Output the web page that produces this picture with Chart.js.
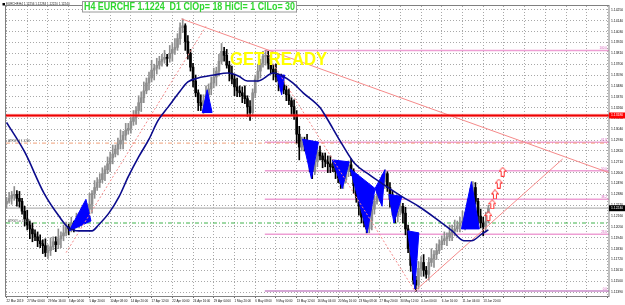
<!DOCTYPE html>
<html><head><meta charset="utf-8">
<script src="https://cdn.jsdelivr.net/npm/chart.js@4"></script>
<style>html,body{margin:0;padding:0;background:#fff;overflow:hidden}canvas{display:block}</style>
</head><body>
<canvas id="c" width="625" height="305" style="width:625px;height:305px"></canvas>
<script>
// ---------- data ----------
const titleText = 'H4 EURCHF 1.1224  D1 ClOp= 18 HiCl= 1 ClLo= 30';
const infoText = 'EURCHF,H4 1.12256 1.12284 1.12220 1.12240';
const barsPerCandle = 2; // each drawn candle covers two H4 bars

const opens = [1.1228,1.1231,1.1234,1.1237,1.1238,1.1234,1.1231,1.1221,1.1213,1.1207,1.1203,1.1198,1.1195,1.1191,1.1188,1.1186,1.1179,1.1181,1.1185,1.1190,1.1187,1.1193,1.1196,1.1199,1.1205,1.1203,1.1209,1.1207,1.1212,1.1214,1.1217,1.1220,1.1223,1.1228,1.1239,1.1245,1.1250,1.1253,1.1259,1.1263,1.1269,1.1275,1.1279,1.1284,1.1289,1.1293,1.1298,1.1303,1.1305,1.1312,1.1316,1.1323,1.1331,1.1336,1.1343,1.1351,1.1356,1.1364,1.1366,1.1369,1.1373,1.1375,1.1377,1.1376,1.1381,1.1385,1.1387,1.1396,1.1407,1.1409,1.1393,1.1381,1.1367,1.1353,1.1341,1.1331,1.1328,1.1333,1.1339,1.1345,1.1351,1.1357,1.1363,1.1373,1.1383,1.1379,1.1369,1.1361,1.1355,1.1347,1.1343,1.1341,1.1338,1.1335,1.1327,1.1321,1.1341,1.1355,1.1363,1.1371,1.1378,1.1379,1.1371,1.1365,1.1361,1.1357,1.1353,1.1349,1.1344,1.1339,1.1333,1.1327,1.1319,1.1299,1.1286,1.1291,1.1289,1.1285,1.1271,1.1261,1.1271,1.1281,1.1277,1.1273,1.1271,1.1269,1.1266,1.1265,1.1261,1.1255,1.1249,1.1253,1.1261,1.1268,1.1261,1.1247,1.1235,1.1226,1.1215,1.1209,1.1203,1.1211,1.1223,1.1231,1.1236,1.1243,1.1251,1.1259,1.1245,1.1233,1.1223,1.1216,1.1221,1.1226,1.1219,1.1203,1.1183,1.1166,1.1151,1.1146,1.1163,1.1169,1.1161,1.1157,1.1169,1.1173,1.1177,1.1181,1.1187,1.1191,1.1193,1.1195,1.1199,1.1201,1.1203,1.1206,1.1209,1.1211,1.1216,1.1226,1.1239,1.1245,1.1231,1.1216,1.1209,1.1205,1.1211];
const highs = [1.1235,1.1240,1.1241,1.1246,1.1242,1.1241,1.1234,1.1226,1.1222,1.1211,1.1209,1.1202,1.1200,1.1197,1.1192,1.1193,1.1187,1.1194,1.1195,1.1195,1.1203,1.1200,1.1207,1.1210,1.1208,1.1215,1.1211,1.1219,1.1219,1.1225,1.1224,1.1229,1.1239,1.1242,1.1252,1.1255,1.1259,1.1265,1.1267,1.1276,1.1281,1.1288,1.1288,1.1295,1.1303,1.1302,1.1310,1.1310,1.1316,1.1323,1.1327,1.1338,1.1342,1.1352,1.1356,1.1362,1.1374,1.1370,1.1376,1.1378,1.1380,1.1384,1.1380,1.1389,1.1391,1.1396,1.1401,1.1412,1.1416,1.1411,1.1399,1.1385,1.1371,1.1359,1.1344,1.1339,1.1339,1.1348,1.1350,1.1357,1.1366,1.1367,1.1380,1.1391,1.1387,1.1385,1.1373,1.1368,1.1360,1.1356,1.1348,1.1347,1.1348,1.1338,1.1333,1.1345,1.1359,1.1370,1.1375,1.1383,1.1384,1.1383,1.1375,1.1370,1.1370,1.1360,1.1360,1.1353,1.1348,1.1345,1.1336,1.1334,1.1323,1.1307,1.1296,1.1296,1.1299,1.1288,1.1277,1.1276,1.1286,1.1287,1.1280,1.1280,1.1277,1.1277,1.1271,1.1270,1.1270,1.1258,1.1260,1.1265,1.1272,1.1274,1.1264,1.1254,1.1240,1.1234,1.1219,1.1214,1.1220,1.1226,1.1237,1.1241,1.1248,1.1258,1.1263,1.1261,1.1250,1.1241,1.1227,1.1227,1.1236,1.1229,1.1225,1.1207,1.1187,1.1172,1.1155,1.1170,1.1175,1.1177,1.1165,1.1174,1.1183,1.1181,1.1188,1.1192,1.1196,1.1200,1.1199,1.1207,1.1207,1.1212,1.1211,1.1215,1.1221,1.1220,1.1233,1.1244,1.1251,1.1250,1.1234,1.1223,1.1215,1.1220,1.1227];
const lows = [1.1224,1.1229,1.1228,1.1232,1.1226,1.1225,1.1218,1.1206,1.1202,1.1193,1.1190,1.1191,1.1185,1.1184,1.1178,1.1175,1.1173,1.1176,1.1182,1.1180,1.1183,1.1184,1.1191,1.1196,1.1197,1.1200,1.1200,1.1204,1.1204,1.1209,1.1214,1.1214,1.1219,1.1219,1.1234,1.1242,1.1245,1.1250,1.1252,1.1259,1.1261,1.1269,1.1276,1.1278,1.1284,1.1284,1.1293,1.1299,1.1300,1.1308,1.1309,1.1319,1.1322,1.1331,1.1340,1.1344,1.1352,1.1354,1.1360,1.1365,1.1368,1.1371,1.1368,1.1372,1.1373,1.1380,1.1384,1.1390,1.1402,1.1384,1.1375,1.1363,1.1347,1.1337,1.1323,1.1323,1.1320,1.1328,1.1336,1.1339,1.1346,1.1348,1.1358,1.1370,1.1373,1.1366,1.1353,1.1350,1.1338,1.1337,1.1337,1.1331,1.1330,1.1317,1.1313,1.1318,1.1336,1.1352,1.1356,1.1367,1.1369,1.1365,1.1361,1.1354,1.1352,1.1343,1.1343,1.1340,1.1333,1.1329,1.1319,1.1314,1.1290,1.1273,1.1282,1.1282,1.1280,1.1261,1.1254,1.1258,1.1266,1.1273,1.1265,1.1266,1.1260,1.1260,1.1261,1.1254,1.1250,1.1244,1.1244,1.1250,1.1256,1.1257,1.1239,1.1230,1.1217,1.1209,1.1205,1.1199,1.1199,1.1202,1.1218,1.1228,1.1231,1.1240,1.1244,1.1241,1.1225,1.1217,1.1209,1.1210,1.1217,1.1209,1.1197,1.1179,1.1160,1.1147,1.1140,1.1142,1.1155,1.1155,1.1153,1.1151,1.1165,1.1164,1.1172,1.1178,1.1182,1.1187,1.1186,1.1191,1.1191,1.1196,1.1200,1.1200,1.1205,1.1202,1.1211,1.1223,1.1234,1.1228,1.1208,1.1204,1.1196,1.1200,1.1209];
const closes = [1.1231,1.1234,1.1237,1.1238,1.1234,1.1231,1.1221,1.1213,1.1207,1.1203,1.1198,1.1195,1.1191,1.1188,1.1186,1.1179,1.1181,1.1185,1.1190,1.1187,1.1193,1.1196,1.1199,1.1205,1.1203,1.1209,1.1207,1.1212,1.1214,1.1217,1.1220,1.1223,1.1228,1.1239,1.1245,1.1250,1.1253,1.1259,1.1263,1.1269,1.1275,1.1279,1.1284,1.1289,1.1293,1.1298,1.1303,1.1305,1.1312,1.1316,1.1323,1.1331,1.1336,1.1343,1.1351,1.1356,1.1364,1.1366,1.1369,1.1373,1.1375,1.1377,1.1376,1.1381,1.1385,1.1387,1.1396,1.1407,1.1409,1.1393,1.1381,1.1367,1.1353,1.1341,1.1331,1.1328,1.1333,1.1339,1.1345,1.1351,1.1357,1.1363,1.1373,1.1383,1.1379,1.1369,1.1361,1.1355,1.1347,1.1343,1.1341,1.1338,1.1335,1.1327,1.1321,1.1341,1.1355,1.1363,1.1371,1.1378,1.1379,1.1371,1.1365,1.1361,1.1357,1.1353,1.1349,1.1344,1.1339,1.1333,1.1327,1.1319,1.1299,1.1286,1.1291,1.1289,1.1285,1.1271,1.1261,1.1271,1.1281,1.1277,1.1273,1.1271,1.1269,1.1266,1.1265,1.1261,1.1255,1.1249,1.1253,1.1261,1.1268,1.1261,1.1247,1.1235,1.1226,1.1215,1.1209,1.1203,1.1211,1.1223,1.1231,1.1236,1.1243,1.1251,1.1259,1.1245,1.1233,1.1223,1.1216,1.1221,1.1226,1.1219,1.1203,1.1183,1.1166,1.1151,1.1146,1.1163,1.1169,1.1161,1.1157,1.1169,1.1173,1.1177,1.1181,1.1187,1.1191,1.1193,1.1195,1.1199,1.1201,1.1203,1.1206,1.1209,1.1211,1.1216,1.1226,1.1239,1.1245,1.1231,1.1216,1.1209,1.1205,1.1211,1.1224];

// moving average (bar index, price)
const maBars = [0,14,29,41,48,56,66,71,79,87,94,102,110,117,125,133,140,148,160,171,179,186,194,206,213,221,229,242,246,259,269,280,290,305,318,331,344,353,359,367,372];
const maValues = [1.1311,1.1281,1.1239,1.1215,1.1204,1.1201,1.1201,1.1207,1.1219,1.1236,1.1256,1.1276,1.1294,1.1313,1.1327,1.1341,1.1352,1.1356,1.1359,1.1361,1.1358,1.1353,1.1353,1.1361,1.1358,1.1351,1.1341,1.1326,1.1318,1.1289,1.1269,1.1258,1.1249,1.1236,1.1226,1.1214,1.1201,1.1191,1.1191,1.1198,1.1202];

// horizontal levels
const redLevel = 1.1318;
const atrHigh = 1.1290;
const atrLow = 1.1209;
const bidPrice = 1.1224;

// fibonacci retracement
const fibHigh = 1.1384, fibLow = 1.1140, fibStartBar = 199.4;
const fibLevels = [100, 61.8, 50, 38.2, 23.6, 0];
const fibLabels = ['100.0', '61.8', '50.0', '38.2', '23.6', '0.0'];

// trend / zigzag lines
const trendFromBar = [46.0, 135.0, 199.4, 315.2];
const trendFromPrice = [1.1179, 1.1416, 1.1384, 1.1140];
const trendToBar = [154.2, 465.1, 315.2, 429.4];
const trendToPrice = [1.1409, 1.1260, 1.1140, 1.1274];
const trendDotted = [true, false, true, false];

// blue pattern triangles
const triBars = [[48.3,61.3,65.2],[151.1,154.9,158.7],[208.6,214.7,212.4],[228.5,240.8,235.4],[251.5,264.6,259.2],[265.3,284.5,278.4],[284.5,292.2,289.9],[295.2,305.2,299.1],[309.8,318.3,315.2],[351.2,358.9,365.0]];
const triPrices = [[1.1201,1.1233,1.1211],[1.1321,1.1344,1.1321],[1.1359,1.1359,1.1339],[1.1294,1.1291,1.1254],[1.1273,1.1271,1.1244],[1.1264,1.1244,1.1199],[1.1244,1.1263,1.1226],[1.1238,1.1236,1.1209],[1.1201,1.1199,1.1142],[1.1203,1.1251,1.1203]];

// projected up arrows
const arrowBars = [372, 375, 377, 380, 383];
const arrowPrices = [1.1216, 1.1228, 1.1238, 1.1249, 1.1261];

// axis ticks
const xTickStep = 16;
const xTickLabels = ['22 Mar 2019','27 Mar 00:00','29 Mar 16:00','3 Apr 04:00','5 Apr 20:00','10 Apr 08:00','14 Apr 20:00','17 Apr 12:00','22 Apr 00:00','24 Apr 16:00','29 Apr 04:00','1 May 20:00','6 May 08:00','9 May 00:00','13 May 12:00','16 May 04:00','20 May 16:00','23 May 08:00','27 May 20:00','30 May 12:00','4 Jun 00:00','6 Jun 16:00','11 Jun 04:00','13 Jun 20:00'];
const yTickValues = [1.1425,1.1414,1.1403,1.1392,1.1381,1.1370,1.1359,1.1348,1.1337,1.1326,1.1315,1.1304,1.1293,1.1282,1.1271,1.1260,1.1249,1.1238,1.1227,1.1216,1.1205,1.1194,1.1183,1.1172,1.1161,1.1150,1.1139];

// ---------- chart ----------
const xMin = -0.4, xMax = 465.1, yMin = 1.1135, yMax = 1.1429;
const FONT = 'Liberation Sans';

function makeArrow() {
  const c = document.createElement('canvas'); c.width = 8; c.height = 10;
  const g = c.getContext('2d');
  g.fillStyle = '#ffffff'; g.strokeStyle = '#ff2e2e'; g.lineWidth = 1;
  g.beginPath();
  g.moveTo(4, 0.5); g.lineTo(7.5, 4.5); g.lineTo(5.5, 4.5); g.lineTo(5.5, 9.5);
  g.lineTo(2.5, 9.5); g.lineTo(2.5, 4.5); g.lineTo(0.5, 4.5); g.closePath();
  g.fill(); g.stroke();
  return c;
}

function seg(points, color, width, dash, order) {
  return {type: 'line', data: points, borderColor: color, borderWidth: width, borderDash: dash || [],
          pointRadius: 0, fill: false, tension: 0, order: order};
}

const datasets = [];
const upColor = '#8e8e8e', downColor = '#000000';
const candleColors = closes.map((c, i) => c >= opens[i] ? upColor : downColor);
const candleX = closes.map((_, i) => i * barsPerCandle);

// fib lines
fibLevels.forEach(l => {
  const p = fibLow + (fibHigh - fibLow) * l / 100;
  datasets.push(seg([{x: fibStartBar, y: p}, {x: xMax, y: p}], l === 0 ? '#c98ac9' : '#ee9fd4', 1.5, [], 10));
});
// dash-dot levels
datasets.push(seg([{x: xMin, y: atrHigh}, {x: xMax, y: atrHigh}], '#f0a07a', 1, [4, 2, 1, 2], 9));
datasets.push(seg([{x: xMin, y: atrLow}, {x: xMax, y: atrLow}], '#3fb24a', 1, [4, 2, 1, 2], 9));
// bid line
datasets.push(seg([{x: xMin, y: bidPrice}, {x: xMax, y: bidPrice}], '#b4b4b4', 1.2, [], 8));
// candles
datasets.push({type: 'bar', data: candleX.map((x, i) => ({x: x, y: [lows[i], highs[i]]})),
  backgroundColor: candleColors, barThickness: 1, grouped: false, borderWidth: 0, order: 7});
datasets.push({type: 'bar', data: candleX.map((x, i) => ({x: x, y: [opens[i], closes[i]]})),
  backgroundColor: candleColors, barThickness: 2, minBarLength: 1, grouped: false, borderWidth: 0, order: 6});
// triangles
triBars.forEach((bars, k) => {
  const pts = bars.map((b, j) => ({x: b, y: triPrices[k][j]}));
  pts.push(pts[0]);
  datasets.push({type: 'line', data: pts, borderColor: '#0000ff', backgroundColor: '#0000ff', borderWidth: 1,
                 fill: 'shape', pointRadius: 0, tension: 0, order: 5});
});
// trend lines
trendFromBar.forEach((b, k) => {
  datasets.push(seg([{x: b, y: trendFromPrice[k]}, {x: trendToBar[k], y: trendToPrice[k]}],
    '#f58a8a', 1, trendDotted[k] ? [2, 2] : [], 4));
});
// red level (with soft halo)
datasets.push(seg([{x: xMin, y: redLevel}, {x: xMax, y: redLevel}], 'rgba(255,120,120,0.45)', 3.5, [], 3.5));
datasets.push(seg([{x: xMin, y: redLevel}, {x: xMax, y: redLevel}], '#ee0000', 1.8, [], 3));
// moving average
datasets.push({type: 'line', data: maBars.map((b, i) => ({x: b, y: maValues[i]})), borderColor: '#0b0b8c',
  borderWidth: 1.6, cubicInterpolationMode: 'monotone', pointRadius: 0, fill: false, order: 2});
// arrows
const arrowImg = makeArrow();
datasets.push({type: 'line', data: arrowBars.map((b, i) => ({x: b, y: arrowPrices[i]})), showLine: false,
  pointStyle: arrowImg, pointRadius: 5, order: 1});

function squeezeText(ctx, text, x, y, width, font, color, align) {
  ctx.save();
  ctx.font = font; ctx.fillStyle = color; ctx.textBaseline = 'middle'; ctx.textAlign = 'left';
  const w = ctx.measureText(text).width;
  const s = Math.min(1, width / w);
  ctx.translate(align === 'right' ? x - w * s : x, y);
  ctx.scale(s, 1);
  ctx.fillText(text, 0, 0);
  ctx.restore();
}

const overlay = {
  id: 'overlay',
  afterDraw(chart) {
    const {ctx, chartArea: a, scales: {x: xs, y: ys}} = chart;
    ctx.save();
    // frame
    ctx.strokeStyle = '#808080'; ctx.lineWidth = 1;
    ctx.strokeRect(a.left - 0.5, a.top - 0.5, a.right - a.left + 0.5, a.bottom - a.top + 1);
    // fib labels
    ctx.font = '3px "' + FONT + '"'; ctx.textAlign = 'right'; ctx.textBaseline = 'bottom';
    fibLevels.forEach((l, i) => {
      const p = fibLow + (fibHigh - fibLow) * l / 100;
      ctx.fillStyle = '#d25cb8';
      ctx.fillText(fibLabels[i], a.right - 2, ys.getPixelForValue(p) - 0.3);
    });
    // ATR labels
    ctx.textAlign = 'left'; ctx.fillStyle = '#555';
    ctx.fillText('ATRW Hi 1.1290', a.left + 2, ys.getPixelForValue(atrHigh) - 0.5);
    ctx.fillText('ATRW Lo 1.1209', a.left + 2, ys.getPixelForValue(atrLow) - 0.5);
    // info line
    ctx.fillStyle = '#000'; ctx.fillRect(2.5, 3, 2.5, 2.5);
    squeezeText(ctx, infoText, 6, 4.5, 68, '3px "' + FONT + '"', '#222', 'left');
    // axis price boxes
    const boxes = [[redLevel, '#ff0000'], [bidPrice, '#000000']];
    boxes.forEach(([v, col]) => {
      const py = ys.getPixelForValue(v);
      ctx.fillStyle = col; ctx.fillRect(a.right, py - 3, chart.width - a.right, 6);
      ctx.fillStyle = '#fff'; ctx.font = '3.4px "' + FONT + '"'; ctx.textAlign = 'left'; ctx.textBaseline = 'middle';
      ctx.fillText(v.toFixed(5), a.right + 2, py);
    });
    // title box
    ctx.fillStyle = '#fff'; ctx.fillRect(82, 1, 215, 11.5);
    ctx.strokeStyle = '#9a9a9a'; ctx.lineWidth = 1; ctx.strokeRect(82.5, 1.5, 214, 10.5);
    squeezeText(ctx, titleText, 84, 7, 211, 'bold 10px "' + FONT + '"', '#2fd62f', 'left');
    // GET READY
    squeezeText(ctx, 'GET READY', 230, 59.5, 97, 'bold 19px "' + FONT + '"', '#ffff00', 'left');
    ctx.restore();
  }
};

new Chart(document.getElementById('c'), {
  type: 'bar',
  data: {datasets: datasets},
  plugins: [overlay],
  options: {
    responsive: false, animation: false, devicePixelRatio: 1, events: [],
    layout: {padding: {left: 2, top: 2, right: 0, bottom: 0}},
    plugins: {legend: {display: false}, tooltip: {enabled: false}},
    scales: {
      x: {
        type: 'linear', min: xMin, max: xMax, offset: false,
        afterBuildTicks: s => { const t = []; for (let v = 0; v <= xMax; v += xTickStep) t.push({value: v}); s.ticks = t; },
        afterFit: s => { s.height = 9; },
        grid: {color: '#a8a8a8', lineWidth: 1, offset: false, drawTicks: true, tickLength: 2, tickColor: '#666'},
        border: {display: false, dash: [1, 2]},
        ticks: {autoSkip: false, maxRotation: 0, minRotation: 0, align: 'start', padding: 1, color: '#111',
                font: {family: FONT, size: 3},
                callback: v => xTickLabels[Math.round(v / xTickStep)] || ''}
      },
      y: {
        type: 'linear', position: 'right', min: yMin, max: yMax, beginAtZero: false,
        afterBuildTicks: s => { s.ticks = yTickValues.map(v => ({value: v})); },
        afterFit: s => { s.width = 16; },
        grid: {color: '#a8a8a8', lineWidth: 1, drawTicks: false},
        border: {display: false, dash: [1, 2]},
        ticks: {padding: 2, color: '#111', font: {family: FONT, size: 3.4}, callback: v => v.toFixed(5)}
      }
    }
  }
});
</script>
</body></html>
